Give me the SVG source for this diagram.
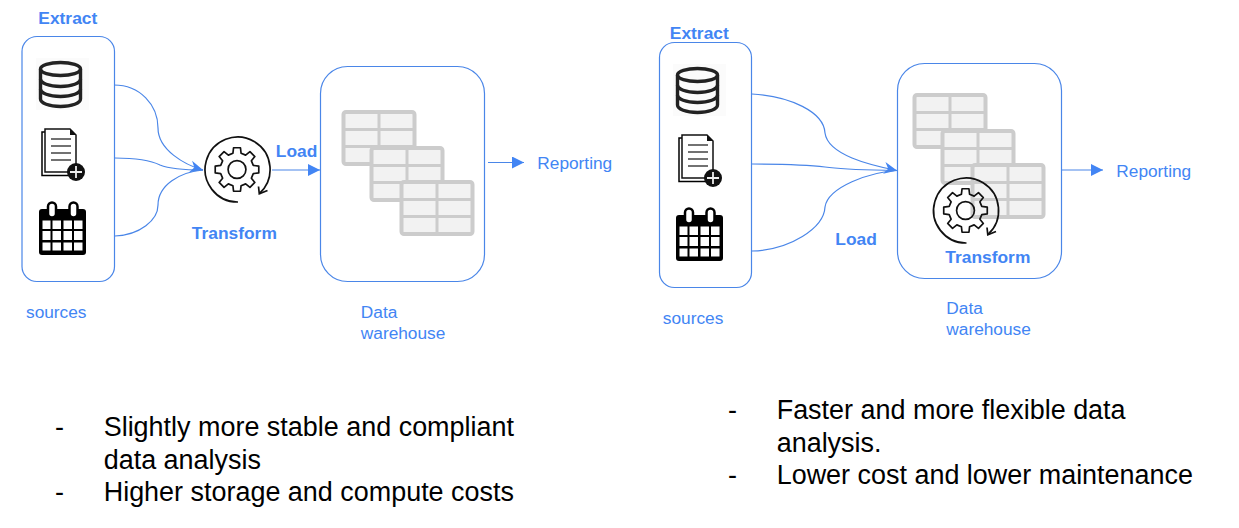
<svg xmlns="http://www.w3.org/2000/svg" xmlns:xlink="http://www.w3.org/1999/xlink" width="1239" height="528" viewBox="0 0 1239 528">
<style>
text{font-family:"Liberation Sans",Arial,sans-serif}
.lbl{fill:#4285f4;font-size:17.3px}
.bold{font-weight:700;font-size:17.4px}
.body{fill:#000;font-size:26.95px}
.box{fill:none;stroke:#4a86e8;stroke-width:1.2}
.conn{fill:none;stroke:#4a86e8;stroke-width:1.2}
</style>
<defs>
<marker id="tri" markerUnits="userSpaceOnUse" markerWidth="13" markerHeight="12" refX="12" refY="6" orient="auto"><path d="M0 0L12 6L0 12Z" fill="#4285f4"/></marker>
<marker id="stealth" markerUnits="userSpaceOnUse" markerWidth="14" markerHeight="14" refX="13" refY="7" orient="auto"><path d="M0 1L13 7L0 13L4 7Z" fill="#4285f4"/></marker>
<g id="db">
<rect x="36" y="58" width="53" height="52" fill="#fbfbfb"/>
<g fill="none" stroke="#222" stroke-width="3.4">
<ellipse cx="60.500" cy="69" rx="20" ry="6.500"/>
<path d="M40.500 69V99C40.500 103 49 106.500 60.500 106.500S80.500 103 80.500 99V69"/>
<path d="M40.500 79C40.500 83 49 86.500 60.500 86.500S80.500 83 80.500 79"/>
<path d="M40.500 89C40.500 93 49 96.500 60.500 96.500S80.500 93 80.500 89"/>
</g>
</g>
<g id="doc">
<path d="M45 132H42V175.500H71V173" fill="none" stroke="#000" stroke-width="1.500"/>
<path d="M45 129H70L76 135V172H45Z" fill="#fff" stroke="#111" stroke-width="1.500"/>
<path d="M70 129L76 135H70Z" fill="#111"/>
<path d="M51 139H71M51 146H71M51 153H71M51 160H71" stroke="#444" stroke-width="1.300"/>
<circle cx="76" cy="172" r="9" fill="#111"/>
<path d="M76 166V178M70 172H82" stroke="#eee" stroke-width="1.800"/>
</g>
<g id="cal">
<rect x="39" y="209" width="47" height="46" rx="3" fill="#000"/>
<rect x="48" y="202.500" width="8" height="15" rx="4" fill="#fff" stroke="#000" stroke-width="2.500"/>
<rect x="69.500" y="202.500" width="8" height="15" rx="4" fill="#fff" stroke="#000" stroke-width="2.500"/>
<g fill="#fff">
<rect x="42.500" y="220.500" width="8" height="8.500"/><rect x="52.500" y="220.500" width="8.500" height="8.500"/><rect x="63.500" y="220.500" width="8.500" height="8.500"/><rect x="74" y="220.500" width="8.500" height="8.500"/>
<rect x="42.500" y="231" width="8" height="9"/><rect x="52.500" y="231" width="8.500" height="9"/><rect x="63.500" y="231" width="8.500" height="9"/><rect x="74" y="231" width="8.500" height="9"/>
<rect x="42.500" y="242.500" width="8" height="8"/><rect x="52.500" y="242.500" width="8.500" height="8"/><rect x="63.500" y="242.500" width="8.500" height="8"/><rect x="74" y="242.500" width="8.500" height="8"/>
</g>
</g>
<g id="table">
<rect x="2" y="2" width="71" height="52" rx="2.500" fill="#f2f2f2" stroke="#cccccc" stroke-width="4"/>
<path d="M37.500 2V54M2 19.500H73M2 36.500H73" fill="none" stroke="#cccccc" stroke-width="3"/>
</g>
<g id="tables">
<use xlink:href="#table" href="#table" x="0" y="0"/>
<use xlink:href="#table" href="#table" x="28" y="36"/>
<use xlink:href="#table" href="#table" x="58" y="70"/>
</g>
<g id="gear">
<g transform="scale(1.05)" fill="none" stroke="#111" stroke-width="1.600">
<path d="M15.520 -3.870L20.740 -3.290L20.740 3.290L15.520 3.870L13.710 8.240L16.990 12.340L12.340 16.990L8.240 13.710L3.870 15.520L3.290 20.740L-3.290 20.740L-3.870 15.520L-8.240 13.710L-12.340 16.990L-16.990 12.340L-13.710 8.240L-15.520 3.870L-20.740 3.290L-20.740 -3.290L-15.520 -3.870L-13.710 -8.240L-16.990 -12.340L-12.340 -16.990L-8.240 -13.710L-3.870 -15.520L-3.290 -20.740L3.290 -20.740L3.870 -15.520L8.240 -13.710L12.340 -16.990L16.990 -12.340L13.710 -8.240Z" stroke-linejoin="round"/>
<circle r="8.500"/>
</g>
<path d="M1 32.500A32.500 32.500 0 1 1 22.500 24" fill="none" stroke="#111" stroke-width="1.700"/>
<path d="M21.500 17L22.300 24.300L30.500 21" fill="none" stroke="#111" stroke-width="1.700"/>
</g>
</defs>

<g id="connectors">
<path class="conn" marker-end="url(#stealth)" d="M114 85C140 85 158 105 158 128C158 150 185 165 203 170"/>
<path class="conn" d="M115 158C135 158 150 160 160 165C170 169 190 170 203 170"/>
<path class="conn" d="M115 236C140 235 158 220 158 205C158 185 180 172 203 170"/>
<path class="conn" marker-end="url(#tri)" d="M272 170H320"/>
<path class="conn" marker-end="url(#tri)" d="M488 162.500H524"/>
<path class="conn" marker-end="url(#stealth)" d="M752 94C790 96 824 112 825 133C828 155 870 165 897 170.500"/>
<path class="conn" d="M752 164C785 164 810 165 825 167C845 170 880 170 897 170.500"/>
<path class="conn" d="M752 251C790 250 824 228 825 207C828 187 870 172 897 170.500"/>
<path class="conn" marker-end="url(#tri)" d="M1062 170H1103"/>
</g>

<g id="left-sources">
<rect class="box" x="22" y="36.500" width="92.500" height="245" rx="15"/>
<use xlink:href="#db" href="#db"/><use xlink:href="#doc" href="#doc"/><use xlink:href="#cal" href="#cal"/>
</g>
<g id="left-extract"><text class="lbl bold" x="38.300" y="24">Extract</text></g>
<g id="left-sources-label"><text class="lbl" x="26" y="318">sources</text></g>
<g id="left-transform">
<use xlink:href="#gear" href="#gear" x="237" y="169.500"/>
<text class="lbl bold" x="191.800" y="239">Transform</text>
</g>
<g id="left-load"><text class="lbl bold" x="275.800" y="157">Load</text></g>
<g id="left-warehouse">
<rect class="box" x="320.500" y="66.500" width="164" height="215" rx="27"/>
<use xlink:href="#tables" href="#tables" x="341.500" y="110"/>
<text class="lbl" x="360.800" y="318">Data</text>
<text class="lbl" x="360.800" y="339">warehouse</text>
</g>
<g id="left-reporting"><text class="lbl" x="537.300" y="169">Reporting</text></g>
<g id="left-notes">
<text class="body" x="55" y="436">-</text><text class="body" x="103.700" y="436">Slightly more stable and compliant</text>
<text class="body" x="103.700" y="468.500">data analysis</text>
<text class="body" x="55" y="501">-</text><text class="body" x="103.700" y="501">Higher storage and compute costs</text>
</g>

<g id="right-sources">
<rect class="box" x="659.500" y="42.500" width="92" height="245" rx="15"/>
<g transform="translate(637 6)"><use xlink:href="#db" href="#db"/><use xlink:href="#doc" href="#doc"/><use xlink:href="#cal" href="#cal"/></g>
</g>
<g id="right-extract"><text class="lbl bold" x="669.800" y="39">Extract</text></g>
<g id="right-sources-label"><text class="lbl" x="662.800" y="324">sources</text></g>
<g id="right-load"><text class="lbl bold" x="835.300" y="245">Load</text></g>
<g id="right-warehouse">
<rect class="box" x="897.500" y="63.500" width="164" height="215" rx="27"/>
<use xlink:href="#tables" href="#tables" x="912.500" y="93"/>
<use xlink:href="#gear" href="#gear" x="965.500" y="210.500"/>
<text class="lbl bold" x="945.300" y="263">Transform</text>
<text class="lbl" x="946.300" y="314">Data</text>
<text class="lbl" x="946.300" y="335">warehouse</text>
</g>
<g id="right-reporting"><text class="lbl" x="1116.300" y="177">Reporting</text></g>
<g id="right-notes">
<text class="body" x="728" y="419">-</text><text class="body" x="776.700" y="419">Faster and more flexible data</text>
<text class="body" x="776.700" y="451.500">analysis.</text>
<text class="body" x="728" y="484">-</text><text class="body" x="776.700" y="484">Lower cost and lower maintenance</text>
</g>
</svg>
